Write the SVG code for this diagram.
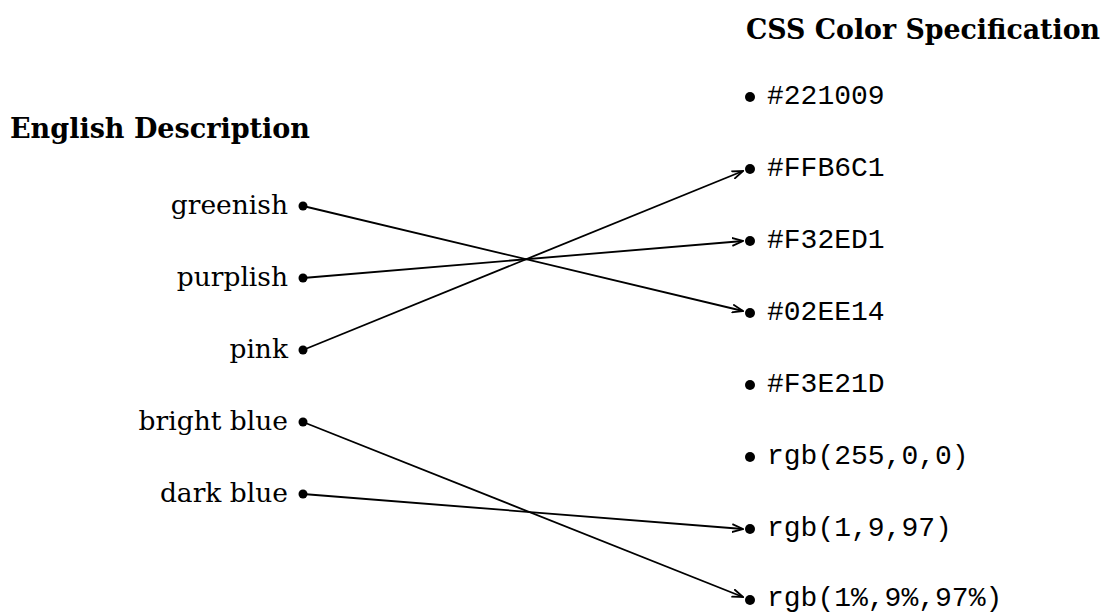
<svg xmlns="http://www.w3.org/2000/svg" width="1109" height="614" viewBox="0 0 1109 614">
<style>
.h{font-family:"DejaVu Serif","Liberation Serif",serif;font-weight:bold;font-size:27px;fill:#000}
.l{font-family:"DejaVu Serif","Liberation Serif",serif;font-size:26.5px;fill:#000;text-anchor:end}
.r{font-family:"Liberation Mono","DejaVu Sans Mono",monospace;font-size:28px;fill:#000}
.e{stroke:#000;stroke-width:1.8;fill:none;marker-end:url(#a)}
</style>
<defs>
<marker id="a" viewBox="0 0 12 10" refX="11" refY="5" markerWidth="12" markerHeight="10" markerUnits="userSpaceOnUse" orient="auto"><path d="M0,1 L11,5 L0,9" fill="none" stroke="#000" stroke-width="1.8"/></marker>
</defs>
<rect width="1109" height="614" fill="#fff"/>
<text class="h" x="10" y="138" textLength="300" lengthAdjust="spacingAndGlyphs">English Description</text>
<text class="h" x="746" y="39" textLength="354" lengthAdjust="spacingAndGlyphs">CSS Color Specification</text>
<g id="left">
<g id="greenish"><text class="l" x="288" y="214">greenish</text><circle cx="303" cy="206" r="4.5"/></g>
<g id="purplish"><text class="l" x="288" y="286">purplish</text><circle cx="303" cy="278" r="4.5"/></g>
<g id="pink"><text class="l" x="288" y="358">pink</text><circle cx="303" cy="350" r="4.5"/></g>
<g id="brightblue"><text class="l" x="288" y="430">bright blue</text><circle cx="303" cy="422" r="4.5"/></g>
<g id="darkblue"><text class="l" x="288" y="502">dark blue</text><circle cx="303" cy="494" r="4.5"/></g>
</g>
<g id="right">
<g id="c1"><circle cx="750" cy="97" r="5"/><text class="r" x="767" y="104">#221009</text></g>
<g id="c2"><circle cx="750" cy="169" r="5"/><text class="r" x="767" y="176">#FFB6C1</text></g>
<g id="c3"><circle cx="750" cy="241" r="5"/><text class="r" x="767" y="248">#F32ED1</text></g>
<g id="c4"><circle cx="750" cy="313" r="5"/><text class="r" x="767" y="320">#02EE14</text></g>
<g id="c5"><circle cx="750" cy="385" r="5"/><text class="r" x="767" y="392">#F3E21D</text></g>
<g id="c6"><circle cx="750" cy="457" r="5"/><text class="r" x="767" y="464">rgb(255,0,0)</text></g>
<g id="c7"><circle cx="750" cy="529" r="5"/><text class="r" x="767" y="536">rgb(1,9,97)</text></g>
<g id="c8"><circle cx="750" cy="600" r="5"/><text class="r" x="767" y="606">rgb(1%,9%,97%)</text></g>
</g>
<g id="connectors">
<line class="e" x1="303" y1="206" x2="743" y2="311"/>
<line class="e" x1="303" y1="278" x2="743" y2="241"/>
<line class="e" x1="303" y1="350" x2="743" y2="171"/>
<line class="e" x1="303" y1="422" x2="743" y2="597"/>
<line class="e" x1="303" y1="494" x2="743" y2="529"/>
</g>
</svg>
